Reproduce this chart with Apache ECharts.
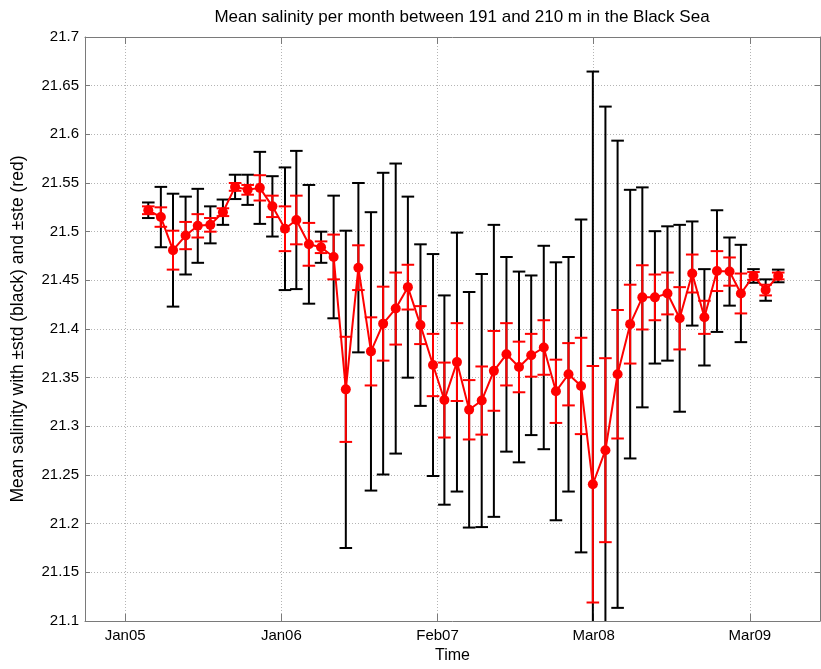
<!DOCTYPE html>
<html>
<head>
<meta charset="utf-8">
<script src="https://cdn.jsdelivr.net/npm/echarts@6/dist/echarts.min.js"></script>
<style>
  html, body { margin: 0; padding: 0; background: #fff; }
  #chart { width: 821px; height: 669px; }
</style>
</head>
<body>
<div id="chart"></div>
<script>
// Monthly samples (first day of each month)
const months = [
  '2005-03-01','2005-04-01','2005-05-01','2005-06-01','2005-07-01','2005-08-01','2005-09-01','2005-10-01','2005-11-01','2005-12-01',
  '2006-01-01','2006-02-01','2006-03-01','2006-04-01','2006-05-01','2006-06-01','2006-07-01','2006-08-01','2006-09-01','2006-10-01','2006-11-01','2006-12-01',
  '2007-01-01','2007-02-01','2007-03-01','2007-04-01','2007-05-01','2007-06-01','2007-07-01','2007-08-01','2007-09-01','2007-10-01','2007-11-01','2007-12-01',
  '2008-01-01','2008-02-01','2008-03-01','2008-04-01','2008-05-01','2008-06-01','2008-07-01','2008-08-01','2008-09-01','2008-10-01','2008-11-01','2008-12-01',
  '2009-01-01','2009-02-01','2009-03-01','2009-04-01','2009-05-01','2009-06-01'
];

// Mean salinity per month (191-210 m)
const meanSal = [
  21.522, 21.515, 21.481, 21.496, 21.506, 21.507, 21.520, 21.546, 21.543, 21.545,
  21.526, 21.503, 21.512, 21.487, 21.484, 21.474, 21.338, 21.463, 21.377, 21.4055, 21.421, 21.443,
  21.404, 21.363, 21.327, 21.366, 21.317, 21.3265, 21.357, 21.374, 21.361, 21.373, 21.381, 21.336,
  21.3535, 21.3415, 21.2405, 21.2755, 21.3535, 21.405, 21.4325, 21.4325, 21.4365, 21.411, 21.457, 21.412,
  21.4595, 21.459, 21.4365, 21.4545, 21.440, 21.4545
];

// Standard deviation (black bars)
const stdSal = [
  0.008, 0.031, 0.058, 0.040, 0.038, 0.019, 0.013, 0.0125, 0.0155, 0.037,
  0.031, 0.063, 0.071, 0.061, 0.016, 0.063, 0.163, 0.087, 0.143, 0.155, 0.149, 0.093,
  0.083, 0.114, 0.1075, 0.133, 0.121, 0.130, 0.150, 0.100, 0.098, 0.082, 0.1045, 0.1325,
  0.1205, 0.171, 0.424, 0.353, 0.240, 0.138, 0.113, 0.068, 0.069, 0.096, 0.0535, 0.0495,
  0.0625, 0.035, 0.050, 0.007, 0.011, 0.0065
];

// Standard error (red bars)
const steSal = [
  0.004, 0.010, 0.020, 0.014, 0.012, 0.007, 0.004, 0.004, 0.005, 0.013,
  0.011, 0.023, 0.025, 0.022, 0.006, 0.023, 0.054, 0.023, 0.035, 0.038, 0.037, 0.023,
  0.0195, 0.032, 0.0385, 0.040, 0.0305, 0.035, 0.041, 0.032, 0.026, 0.022, 0.028, 0.0325,
  0.032, 0.0495, 0.1215, 0.0945, 0.066, 0.0405, 0.033, 0.0235, 0.0215, 0.032, 0.0195, 0.017,
  0.0205, 0.0145, 0.0205, 0.004, 0.0055, 0.0035
];

// Date ticks and their labels
const tickDates = ['2005-01-03', '2006-01-23', '2007-02-12', '2008-03-03', '2009-03-23'];
const tickLabels = ['Jan05', 'Jan06', 'Feb07', 'Mar08', 'Mar09'];
const xRange = ['2004-09-26', '2009-09-12'];

const epoch = Date.parse('2005-01-01');
const toDay = s => (Date.parse(s) - epoch) / 86400000;

const xDays = months.map(toDay);
const tickDays = tickDates.map(toDay);
const tee = (Math.max(...xDays) - Math.min(...xDays)) / 100;

const FONT = '"Liberation Sans", Arial, Helvetica, sans-serif';
const AXIS_COLOR = '#7a7a7a';
const GRID_COLOR = '#b4b4b4';

function errorBarRenderer(color, width) {
  return function (params, api) {
    const x = api.value(0), m = api.value(1), e = api.value(2);
    const cs = params.coordSys;
    const top = api.coord([x, m + e]);
    const bot = api.coord([x, m - e]);
    const left = api.coord([x - tee, m])[0];
    const right = api.coord([x + tee, m])[0];
    const yMin = cs.y, yMax = cs.y + cs.height;
    const y1 = Math.max(yMin, Math.min(yMax, top[1]));
    const y2 = Math.max(yMin, Math.min(yMax, bot[1]));
    const style = { stroke: color, lineWidth: width };
    const children = [
      { type: 'line', shape: { x1: top[0], y1: y1, x2: bot[0], y2: y2 }, style: style }
    ];
    if (top[1] >= yMin && top[1] <= yMax) {
      children.push({ type: 'line', shape: { x1: left, y1: top[1], x2: right, y2: top[1] }, style: style });
    }
    if (bot[1] >= yMin && bot[1] <= yMax) {
      children.push({ type: 'line', shape: { x1: left, y1: bot[1], x2: right, y2: bot[1] }, style: style });
    }
    return { type: 'group', children: children };
  };
}

const stdData = xDays.map((d, i) => [d, meanSal[i], stdSal[i]]);
const steData = xDays.map((d, i) => [d, meanSal[i], steSal[i]]);
const meanData = xDays.map((d, i) => [d, meanSal[i]]);

const chart = echarts.init(document.getElementById('chart'), null, { renderer: 'canvas' });

const xCommon = {
  type: 'value',
  min: toDay(xRange[0]),
  max: toDay(xRange[1]),
  axisLine: { show: true, onZero: false, lineStyle: { color: AXIS_COLOR, width: 1 } },
  axisTick: { show: true, inside: true, length: 7, customValues: tickDays, lineStyle: { color: AXIS_COLOR } }
};
const yCommon = {
  type: 'value',
  min: 21.1,
  max: 21.7,
  interval: 0.05,
  axisLine: { show: true, onZero: false, lineStyle: { color: AXIS_COLOR, width: 1 } },
  axisTick: { show: true, inside: true, length: 5, lineStyle: { color: AXIS_COLOR } }
};

chart.setOption({
  animation: false,
  backgroundColor: '#fff',
  title: {
    text: 'Mean salinity per month between 191 and 210 m in the Black Sea',
    left: 457,
    top: 4,
    textAlign: 'center',
    textStyle: { fontFamily: FONT, fontSize: 17, fontWeight: 'normal', color: '#000' }
  },
  grid: { left: 85, right: 1, top: 37, bottom: 43, containLabel: false },
  xAxis: [
    Object.assign({}, xCommon, {
      position: 'bottom',
      name: 'Time',
      nameLocation: 'middle',
      nameGap: 27,
      nameTextStyle: { fontFamily: FONT, fontSize: 16, color: '#000' },
      axisLabel: {
        customValues: tickDays,
        margin: 7,
        fontFamily: FONT, fontSize: 15, color: '#000',
        formatter: v => tickLabels[tickDays.indexOf(v)] || ''
      },
      splitLine: { show: true, lineStyle: { color: GRID_COLOR, type: [1, 2], width: 1 } }
    }),
    Object.assign({}, xCommon, {
      position: 'top',
      axisLabel: { show: false },
      splitLine: { show: false }
    })
  ],
  yAxis: [
    Object.assign({}, yCommon, {
      position: 'left',
      name: 'Mean salinity with \u00b1std (black) and \u00b1ste (red)',
      nameLocation: 'middle',
      nameGap: 58,
      nameRotate: 90,
      nameTextStyle: { fontFamily: FONT, fontSize: 17.5, color: '#000' },
      axisLabel: { margin: 6, fontFamily: FONT, fontSize: 15, color: '#000' },
      splitLine: { show: true, lineStyle: { color: GRID_COLOR, type: [1, 2], width: 1 } }
    }),
    Object.assign({}, yCommon, {
      position: 'right',
      axisLabel: { show: false },
      splitLine: { show: false }
    })
  ],
  series: [
    {
      name: 'std',
      type: 'custom',
      xAxisIndex: 0, yAxisIndex: 0,
      renderItem: errorBarRenderer('#000000', 2),
      encode: { x: 0, y: [1] },
      data: stdData,
      z: 2,
      silent: true
    },
    {
      name: 'ste',
      type: 'custom',
      xAxisIndex: 0, yAxisIndex: 0,
      renderItem: errorBarRenderer('#ff0000', 2),
      encode: { x: 0, y: [1] },
      data: steData,
      z: 3,
      silent: true
    },
    {
      name: 'mean',
      type: 'line',
      xAxisIndex: 0, yAxisIndex: 0,
      data: meanData,
      symbol: 'circle',
      symbolSize: 10,
      showSymbol: true,
      lineStyle: { color: '#ff0000', width: 2 },
      itemStyle: { color: '#ff0000' },
      z: 4,
      silent: true
    }
  ]
});
</script>
</body>
</html>
